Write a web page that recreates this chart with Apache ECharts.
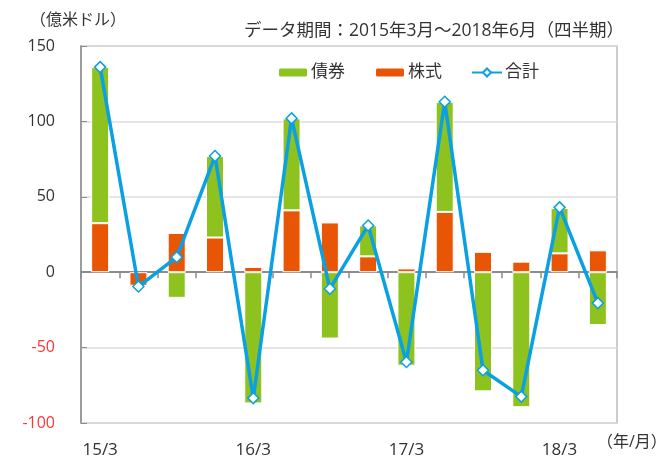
<!DOCTYPE html>
<html><head><meta charset="utf-8">
<script src="https://cdn.jsdelivr.net/npm/echarts@6/dist/echarts.min.js"></script>
<style>html,body{margin:0;padding:0;background:#fff}#c{width:670px;height:462px}</style>
</head><body><div id="c"></div>
<script>
const categories = ['15/3','15/6','15/9','15/12','16/3','16/6','16/9','16/12','17/3','17/6','17/9','17/12','18/3','18/6'];
const stock = [32.5, -9, 26, 23, 3.5, 41, 33, 10.5, 2.5, 40, 13.5, 7, 12.5, 14.5];
const bond  = [103.5, -0.5, -17, 54, -87, 61, -44, 20.5, -62, 73, -79, -89.5, 30, -35];
const total = [136, -9.5, 10, 77, -83.5, 102, -11, 31, -59.5, 113, -65, -82.5, 43, -20.5];
const yMin = -100, yMax = 150, yStep = 50;

const FONT = '"Open Sans", "Noto Sans CJK JP", sans-serif';
const chart = echarts.init(document.getElementById('c'), null, {renderer: 'canvas'});
chart.setOption({
  animation: false,
  textStyle: {fontFamily: FONT},
  grid: {left: 81, right: 53, top: 46, bottom: 39, show: true, borderColor: '#bdbdbd', borderWidth: 1.5, backgroundColor: 'transparent'},
  legend: {
    data: ['債券', '株式', '合計'],
    left: 272, top: 59,
    itemWidth: 30, itemHeight: 10, itemGap: 29,
    textStyle: {fontSize: 17, color: '#333', fontFamily: FONT, padding: [0, 0, 0, -2]}
  },
  graphic: [
    {type: 'text', left: 30, top: 12, style: {text: '（億米ドル）', font: '16px ' + FONT, fill: '#333'}},
    {type: 'text', right: 46, top: 22, style: {text: 'データ期間：2015年3月～2018年6月（四半期）', font: '17.5px ' + FONT, fill: '#333'}},
    {type: 'text', left: 597, top: 434, style: {text: '（年/月）', font: '16px ' + FONT, fill: '#333'}}
  ],
  xAxis: [
    {
      type: 'category', data: categories, boundaryGap: true,
      axisLine: {onZero: true, lineStyle: {color: '#8c8c8c', width: 2}},
      axisTick: {show: true, length: 6, alignWithLabel: false, interval: 0, lineStyle: {color: '#8c8c8c', width: 1.5}},
      axisLabel: {show: false}
    },
    {
      type: 'category', data: categories, position: 'bottom', boundaryGap: true,
      axisLine: {show: false, onZero: false}, axisTick: {show: false},
      axisLabel: {interval: 3, margin: 19, fontSize: 17, color: '#333', fontFamily: FONT}
    }
  ],
  yAxis: {
    type: 'value', min: yMin, max: yMax, interval: yStep,
    axisLine: {show: true, lineStyle: {color: '#8c8c8c', width: 1.5}},
    axisTick: {show: true, inside: true, length: 6, lineStyle: {color: '#8c8c8c'}},
    splitLine: {show: true, lineStyle: {color: '#dcdcdc', width: 1.5}},
    axisLabel: {
      margin: 26, fontSize: 16, fontFamily: FONT,
      color: function (v) { return Number(v) < 0 ? '#ff3535' : '#333'; }
    }
  },
  series: [
    {name: '株式', type: 'bar', stack: 'a', data: stock, barWidth: 18, xAxisIndex: 0,
     itemStyle: {color: '#e85504', borderColor: '#fff', borderWidth: 1}},
    {name: '債券', type: 'bar', stack: 'a', data: bond, barWidth: 18, xAxisIndex: 0,
     itemStyle: {color: '#8dc21f', borderColor: '#fff', borderWidth: 1}},
    {name: '合計', type: 'line', data: total, xAxisIndex: 0, z: 5,
     symbol: 'diamond', symbolSize: 11, showSymbol: true,
     lineStyle: {color: '#0aa0e4', width: 3.5},
     itemStyle: {color: '#fff', borderColor: '#0aa0e4', borderWidth: 1.5}}
  ]
});
</script></body></html>
